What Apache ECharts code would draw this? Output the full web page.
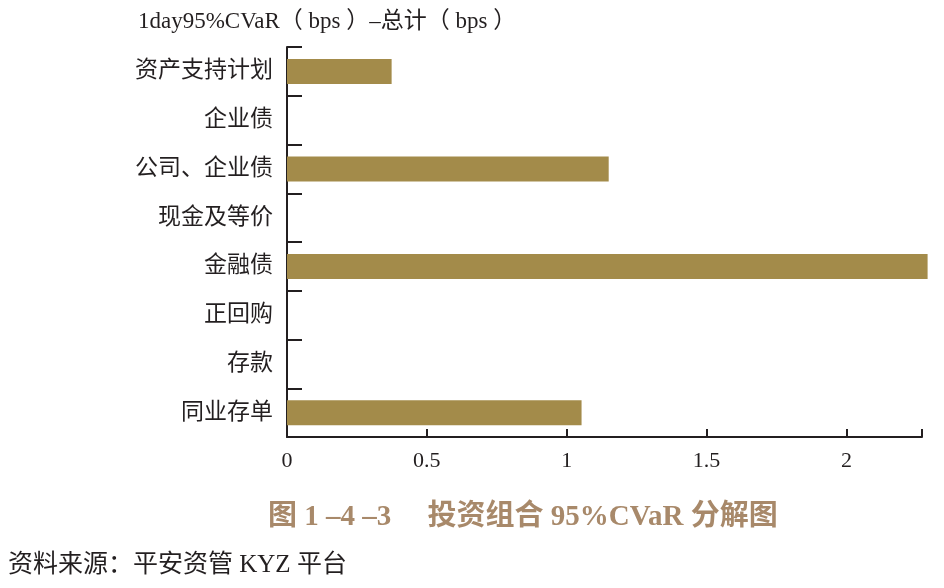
<!DOCTYPE html>
<html>
<head>
<meta charset="utf-8">
<script src="https://cdn.jsdelivr.net/npm/echarts@6/dist/echarts.min.js"></script>
<style>
  html, body { margin: 0; padding: 0; background: #fff; }
  #main { width: 944px; height: 588px; }
</style>
</head>
<body>
<div id="main"></div>
<script>
// categories top to bottom
const categories = ['资产支持计划', '企业债', '公司、企业债', '现金及等价', '金融债', '正回购', '存款', '同业存单'];
const cvarValues = [0.374, 0, 1.15, 0, 2.29, 0, 0, 1.053];
const xTicks = [0, 0.5, 1, 1.5, 2];

const FONT = "'Liberation Serif', 'Noto Sans CJK SC', serif";
const INK = '#231f20';

const chart = echarts.init(document.getElementById('main'));

chart.setOption({
  animation: false,
  title: {
    text: '1day95%CVaR（ bps ）–总计（ bps ）',
    left: 133,
    top: 5,
    textStyle: { fontFamily: FONT, fontSize: 23, fontWeight: 'normal', color: INK }
  },
  grid: { left: 287, top: 47, right: 22, bottom: 151, containLabel: false },
  xAxis: {
    type: 'value',
    min: 0,
    max: 2.27,
    interval: 0.5,
    splitLine: { show: false },
    axisLine: { show: true, lineStyle: { color: INK, width: 2 } },
    axisTick: { show: true, inside: true, length: 8, lineStyle: { color: INK, width: 2 } },
    axisLabel: {
      margin: 13,
      fontFamily: FONT,
      fontSize: 22,
      color: INK,
      formatter: v => (xTicks.some(t => Math.abs(t - v) < 1e-9) ? String(v) : '')
    }
  },
  yAxis: {
    type: 'category',
    inverse: true,
    data: categories,
    axisLine: { show: true, lineStyle: { color: INK, width: 2 } },
    axisTick: { show: true, inside: true, length: 15, lineStyle: { color: INK, width: 2 } },
    axisLabel: { margin: 14, fontFamily: FONT, fontSize: 23, color: INK }
  },
  series: [{
    type: 'bar',
    data: cvarValues,
    barWidth: 25,
    clip: false,
    itemStyle: { color: '#a38b4a' }
  }],
  graphic: [
    {
      type: 'text',
      left: 268,
      top: 503,
      style: {
        text: '图 1 –4 –3　 投资组合 95%CVaR 分解图',
        font: "bold 29px " + FONT,
        fill: '#a8896a'
      }
    },
    {
      type: 'text',
      left: 8,
      top: 553,
      style: {
        text: '资料来源：平安资管 KYZ 平台',
        font: "25px " + FONT,
        fill: INK
      }
    }
  ]
});
</script>
</body>
</html>
